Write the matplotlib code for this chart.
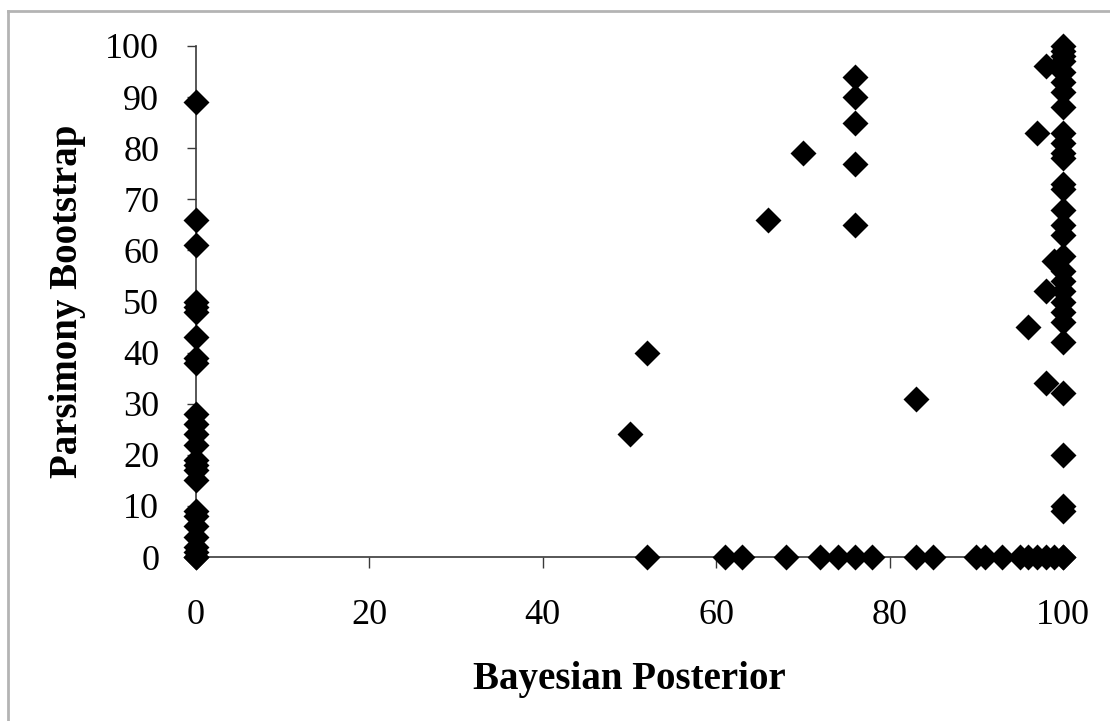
import matplotlib
matplotlib.use("Agg")
import matplotlib.pyplot as plt
from matplotlib.lines import Line2D

# Clade support: Bayesian posterior (%) vs parsimony bootstrap (%)
posterior_zero = [0] * 25
bootstrap_zero = [89, 66, 61, 50, 49, 48, 43, 39, 38, 28, 26, 24, 22, 19,
                  18, 17, 15, 9, 8, 6, 4, 2, 1, 0, 0]

posterior_mid = [50, 52, 66, 70, 76, 76, 76, 76, 76, 83, 96, 97, 98, 98, 99, 98]
bootstrap_mid = [24, 40, 66, 79, 94, 90, 85, 77, 65, 31, 45, 83, 34, 96, 58, 52]

posterior_unsupported = [52, 61, 63, 68, 72, 74, 76, 78, 83, 85, 90, 91, 93,
                         95, 96, 97, 98, 99, 100]
bootstrap_unsupported = [0] * 19

posterior_full = [100] * 30
bootstrap_full = [100, 99, 98, 97, 95, 93, 91, 88, 83, 81, 79, 78, 73, 72,
                  68, 65, 63, 59, 56, 54, 52, 50, 48, 46, 42, 32, 20, 10, 9, 0]

x_ticks = [0, 20, 40, 60, 80, 100]
y_ticks = [0, 10, 20, 30, 40, 50, 60, 70, 80, 90, 100]

bayes = posterior_zero + posterior_mid + posterior_unsupported + posterior_full
parsimony = bootstrap_zero + bootstrap_mid + bootstrap_unsupported + bootstrap_full

W, H = 1110, 721
fig = plt.figure(figsize=(W / 100, H / 100), dpi=100)
fig.patch.set_facecolor("white")

ax = fig.add_axes([196 / W, 1 - 557 / H, (1063 - 196) / W, (557 - 46) / H])
ax.scatter(bayes, parsimony, marker="D", s=175, color="black",
           linewidths=0, clip_on=False, zorder=5)

ax.set_xlim(0, 100)
ax.set_ylim(0, 100)
ax.set_xticks(x_ticks)
ax.set_yticks(y_ticks)

serif = "Liberation Serif"
for lab in ax.get_xticklabels() + ax.get_yticklabels():
    lab.set_fontfamily(serif)
    lab.set_fontsize(26)

for side in ("top", "right"):
    ax.spines[side].set_visible(False)
for side in ("left", "bottom"):
    ax.spines[side].set_color("#3a3a3a")
    ax.spines[side].set_linewidth(1.2)

ax.tick_params(axis="x", direction="out", length=8, width=1.0,
               color="#3a3a3a", pad=22)
ax.tick_params(axis="y", direction="out", length=6.5, width=1.0,
               color="#3a3a3a", pad=20)

ax.set_xlabel("Bayesian Posterior", fontfamily=serif, fontweight="bold",
              fontsize=28)
ax.set_ylabel("Parsimony Bootstrap", fontfamily=serif, fontweight="bold",
              fontsize=28)
ax.xaxis.set_label_coords(0.5, (557 - 680) / 511)
ax.xaxis.label.set_va("center")
ax.yaxis.set_label_coords((68 - 196) / 867, 0.5)
ax.yaxis.label.set_va("center")

# thin gray frame around the chart area
frame_kw = dict(color="#b4b4b4", linewidth=2.0, transform=fig.transFigure)
fig.add_artist(Line2D([8 / W, 1.0], [1 - 11 / H, 1 - 11 / H], **frame_kw))
fig.add_artist(Line2D([8 / W, 8 / W], [0.0, 1 - 11 / H], **frame_kw))

fig.savefig("out.png", dpi=100)
